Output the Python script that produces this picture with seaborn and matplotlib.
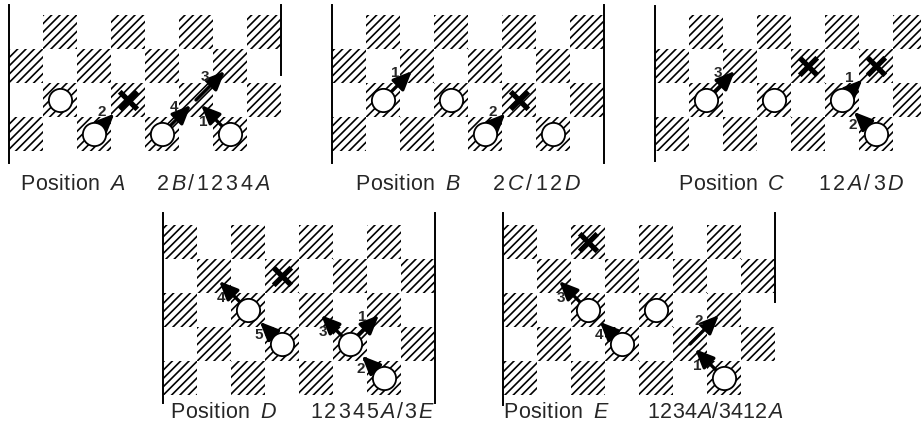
import numpy as np
import matplotlib
matplotlib.use("Agg")
import matplotlib.pyplot as plt
import seaborn as sns
from matplotlib.patches import Rectangle
from matplotlib.font_manager import FontProperties, findfont, get_font

sns.set_theme(style="white")
plt.rcParams['font.family'] = ['Liberation Sans', 'DejaVu Sans']
plt.rcParams['hatch.linewidth'] = 1.2
plt.rcParams['hatch.color'] = 'black'

# squares are (column, row counted from the bottom edge of the board)
panel_names = ['A', 'B', 'C', 'D', 'E']
panel_notation = ['2B/1234A', '2C/12D', '12A/3D', '12345A/3E', '1234A/3412A']
panel_rows = [4, 4, 4, 5, 5]

men_A = [(1, 1), (2, 0), (4, 0), (6, 0)]
men_B = [(1, 1), (3, 1), (4, 0), (6, 0)]
men_C = [(1, 1), (3, 1), (5, 1), (6, 0)]
men_D = [(2, 2), (3, 1), (5, 1), (6, 0)]
men_E = [(2, 2), (3, 1), (4, 2), (6, 0)]

cross_A = [(3, 1)]
cross_B = [(5, 1)]
cross_C = [(4, 2), (6, 2)]
cross_D = [(3, 3)]
cross_E = [(2, 4)]

# (from square, to square, move number)
moves_A = [((2, 0), (3, 1), '2'), ((4, 0), (5, 1), '4'),
           ((5, 1), (6, 2), '3'), ((6, 0), (5, 1), '1')]
moves_B = [((1, 1), (2, 2), '1'), ((4, 0), (5, 1), '2')]
moves_C = [((1, 1), (2, 2), '3'), ((5, 1), (6, 2), '1'), ((6, 0), (5, 1), '2')]
moves_D = [((2, 2), (1, 3), '4'), ((3, 1), (2, 2), '5'), ((5, 1), (4, 2), '3'),
           ((5, 1), (6, 2), '1'), ((6, 0), (5, 1), '2')]
moves_E = [((2, 2), (1, 3), '3'), ((3, 1), (2, 2), '4'),
           ((6, 0), (5, 1), '1'), ((5, 1), (6, 2), '2')]

all_men = [men_A, men_B, men_C, men_D, men_E]
all_cross = [cross_A, cross_B, cross_C, cross_D, cross_E]
all_moves = [moves_A, moves_B, moves_C, moves_D, moves_E]

# layout in pixels: board left edge, board top, line top, line bottom,
# right line bottom, caption x, notation x0, notation x1, caption y
FIG_W, FIG_H = 921, 434
CELL = 34
layout = [
    (9, 15, 5, 163, 75, 20, 157, 269, 185),
    (332, 15, 5, 163, 163, 355, 493, 580, 185),
    (655, 15, 6, 161, 161, 678, 818, 903, 185),
    (163, 225, 213, 403, 403, 170, 310, 433, 413),
    (503, 225, 213, 405, 302, 503, 647, 782, 413),
]

R = 0.34  # man radius in squares
FS = 15.5

fig = plt.figure(figsize=(FIG_W / 100, FIG_H / 100), dpi=100)

fonts = {}
for st in ['normal', 'italic']:
    f = get_font(findfont(FontProperties(family='Liberation Sans', style=st)))
    fonts[st] = f


def advance(ch, style):
    f = fonts[style]
    f.set_size(FS, 100)
    g = f.load_char(ord(ch))
    return g.linearHoriAdvance / 65536


def spaced_text(x0, y, s, italic_caps=True, x1=None, track=0.6):
    """Write s one glyph at a time; capitals in italic. Fit to x1 if given."""
    styles = ['italic' if (italic_caps and ch.isupper()) else 'normal' for ch in s]
    adv = [advance(ch, st) for ch, st in zip(s, styles)]
    if x1 is not None and len(s) > 1:
        track = (x1 - x0 - sum(adv)) / (len(s) - 1)
    x = x0
    for ch, st, a in zip(s, styles, adv):
        fig.text(x / FIG_W, 1 - y / FIG_H, ch, fontsize=FS, style=st,
                 ha='left', va='center')
        x += a + track


for name, nota, nrows, men, cross, moves, lay in zip(
        panel_names, panel_notation, panel_rows, all_men, all_cross, all_moves, layout):
    x0, top, ltop, lbot, rbot, cap_x, nx0, nx1, cap_y = lay
    ax = fig.add_axes([x0 / FIG_W, 1 - lbot / FIG_H, 8 * CELL / FIG_W, (lbot - ltop) / FIG_H])
    ymin = -(lbot - (top + nrows * CELL)) / CELL
    ymax = nrows + (top - ltop) / CELL
    ax.set_xlim(0, 8)
    ax.set_ylim(ymin, ymax)

    # hatched squares
    for c in range(8):
        for r in range(nrows):
            if (c + r) % 2 == 0:
                ax.add_patch(Rectangle((c, r), 1, 1, facecolor='white', edgecolor='black',
                                       lw=0, hatch='////', zorder=1))

    # moves
    for src, dst, num in moves:
        p0 = np.array(src) + 0.5
        p1 = np.array(dst) + 0.5
        d = (p1 - p0) / np.linalg.norm(p1 - p0)
        start = p0 + d * R if src in men else p0
        if dst in men:
            tip = p1 - d * (R + 0.15)
        elif dst in cross:
            tip = p0 + (p1 - p0) * 0.6
        else:
            tip = p0 + (p1 - p0) * 0.85
        ax.annotate('', xy=tip, xytext=start,
                    arrowprops=dict(arrowstyle='-|>,head_length=0.8,head_width=0.35',
                                    lw=2.4, color='black', shrinkA=0, shrinkB=0,
                                    mutation_scale=14), zorder=4)
        perp = np.array([-d[1], d[0]])
        lab = start + (tip - start) * 0.55 + perp * 0.3
        ax.text(lab[0], lab[1], num, fontsize=11, fontweight='bold',
                ha='center', va='center', zorder=5)

    # men
    mx = [m[0] + 0.5 for m in men]
    my = [m[1] + 0.5 for m in men]
    sns.scatterplot(x=mx, y=my, s=280, color='white', edgecolor='black',
                    linewidth=1.3, ax=ax, zorder=6)
    # crossed squares
    cx = [m[0] + 0.5 for m in cross]
    cy = [m[1] + 0.5 for m in cross]
    sns.scatterplot(x=cx, y=cy, s=160, marker='x', color='black',
                    linewidth=3.8, ax=ax, zorder=6)

    ax.set_xticks([])
    ax.set_yticks([])
    ax.set_xlabel('')
    ax.set_ylabel('')
    for side in ['top', 'bottom']:
        ax.spines[side].set_visible(False)
    for side in ['left', 'right']:
        ax.spines[side].set_color('black')
        ax.spines[side].set_linewidth(1.4)
    ax.spines['right'].set_bounds(ymax - (rbot - ltop) / CELL, ymax)
    ax.patch.set_alpha(0)

    spaced_text(cap_x, cap_y, 'Position', italic_caps=False, track=0.5)
    spaced_text(cap_x + 90, cap_y, name)
    spaced_text(nx0, cap_y, nota, x1=nx1)

fig.savefig('out.png', dpi=100)
